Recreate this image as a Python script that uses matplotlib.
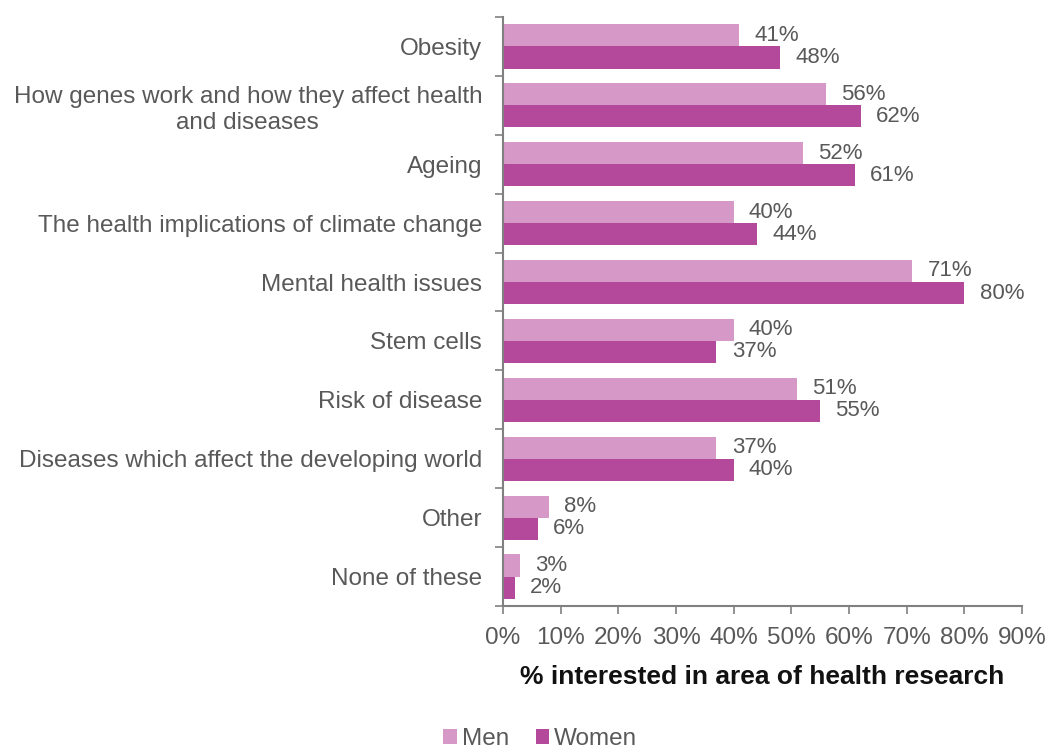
import numpy as np
import matplotlib
matplotlib.use("Agg")
from matplotlib import pyplot as plt
from matplotlib.ticker import FuncFormatter

plt.rcParams['font.family'] = ['Liberation Sans', 'DejaVu Sans']

categories = ["Obesity",
              "How genes work and how they affect health\nand diseases",
              "Ageing",
              "The health implications of climate change",
              "Mental health issues",
              "Stem cells",
              "Risk of disease",
              "Diseases which affect the developing world",
              "Other",
              "None of these"]
men = [41, 56, 52, 40, 71, 40, 51, 37, 8, 3]
women = [48, 62, 61, 44, 80, 37, 55, 40, 6, 2]

c_men = '#d598c7'
c_women = '#b4489a'
grey = '#595959'

fig = plt.figure(figsize=(10.49, 7.54), dpi=100)
ax = fig.add_axes([0.4795, 0.1963, 0.4948, 0.7812])

y = np.arange(len(categories))
h = 0.375
b1 = ax.barh(y - h / 2, men, height=h, color=c_men, label="Men")
b2 = ax.barh(y + h / 2, women, height=h, color=c_women, label="Women")
ax.bar_label(b1, labels=[f"{v}%" for v in men], padding=11, fontsize=16, color=grey)
ax.bar_label(b2, labels=[f"{v}%" for v in women], padding=11, fontsize=16, color=grey)

ax.set_ylim(len(categories) - 0.5, -0.5)
ax.set_xlim(0, 90)
ax.set_xticks(np.arange(0, 91, 10))
ax.xaxis.set_major_formatter(FuncFormatter(lambda v, p: f"{v:.0f}%"))

# category names sit between the boundary ticks
ax.set_yticks(y)
ax.set_yticklabels(categories)
ax.set_yticks(np.arange(-0.5, len(categories)), minor=True)
ax.tick_params(axis='y', which='major', length=0, pad=15, labelsize=17.5, labelcolor=grey)
ax.tick_params(axis='y', which='minor', length=6, width=1.2, color='#808080', direction='out')
ax.tick_params(axis='x', length=6, width=1.2, color='#808080', labelsize=17.5, labelcolor=grey, pad=9)
for lab in ax.get_yticklabels():
    lab.set_multialignment('center')
    lab.set_linespacing(1.25)

for s in ['top', 'right']:
    ax.spines[s].set_visible(False)
for s in ['left', 'bottom']:
    ax.spines[s].set_color('#808080')
    ax.spines[s].set_linewidth(1.5)

ax.set_xlabel("% interested in area of health research", fontsize=19, fontweight='bold',
              color='#111111', labelpad=12)

fig.legend(handles=[b1, b2], loc='lower center', bbox_to_anchor=(0.515, -0.024), ncol=2,
           frameon=False, fontsize=17.5, labelcolor=grey, handlelength=0.55, handleheight=0.55,
           handletextpad=0.2, columnspacing=1.1)

fig.savefig("out.png", dpi=100)
